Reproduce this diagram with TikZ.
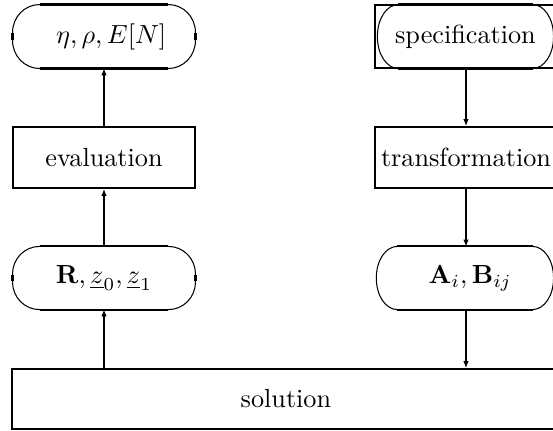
\documentclass[tikz,border=0pt]{standalone}
\usetikzlibrary{arrows.meta}
\tikzset{
  rectbox/.style={draw, line width=0.8pt, minimum width=69.4pt, inner sep=0pt},
  ovalnode/.style={inner sep=0pt, minimum width=#1},
  ovalnode/.default=69.4pt,
  flat/.style={line width=0.8pt},
  thinline/.style={line width=0.4pt},
  conn/.style={line width=0.4pt, -{Latex[length=2.6pt,width=2.1pt]}}
}
% \ovaloutline{node}{rx}{ry}
\newcommand{\ovaloutline}[3]{%
  \draw[thinline] ([xshift=#2]#1.north west)
    arc[start angle=90, end angle=180, x radius=#2, y radius=#3]
    -- ([yshift=#3]#1.south west)
    arc[start angle=180, end angle=270, x radius=#2, y radius=#3]
    -- ([xshift=-#2]#1.south east)
    arc[start angle=270, end angle=360, x radius=#2, y radius=#3]
    -- ([yshift=-#3]#1.north east)
    arc[start angle=0, end angle=90, x radius=#2, y radius=#3] -- cycle;
  \draw[flat] ([xshift=#2]#1.north west) -- ([xshift=-#2]#1.north east);
  \draw[flat] ([xshift=#2]#1.south west) -- ([xshift=-#2]#1.south east);
}
\begin{document}
\begin{tikzpicture}[x=1pt,y=-1pt]
  \useasboundingbox (0,0) rectangle (211,164.07);
  \clip (0,0) rectangle (211,164.07);

  % left column
  \node[ovalnode, minimum height=24pt] (eta) at (39.68,13.93) {\hspace*{5.5pt}$\eta, \rho, E[N]$};
  \node[rectbox, minimum height=23.3pt] (eval) at (39.68,60.09) {evaluation};
  \node[ovalnode, minimum height=23.7pt] (R) at (39.68,106.07) {$\mathbf{R}, \underline{z}_0, \underline{z}_1$};

  % right column
  \node[rectbox, minimum height=24pt] (specframe) at (177.8,13.93) {};
  \node[ovalnode=66.8pt, minimum height=24pt] (spec) at (177.6,13.93) {specification};
  \node[rectbox, minimum height=23.3pt] (trans) at (177.8,60.09) {transformation};
  \node[ovalnode=67.2pt, minimum height=23.7pt] (A) at (177.4,106.07) {\hspace*{4pt}$\mathbf{A}_i, \mathbf{B}_{ij}$};

  % bottom
  \node[rectbox, minimum width=209.1pt, minimum height=22.9pt] (sol) at (109.1,152.24) {solution};

  % oval outlines
  \ovaloutline{eta}{10.3pt}{10.7pt}
  \ovaloutline{R}{10.3pt}{10.5pt}
  \ovaloutline{spec}{8pt}{12pt}
  \ovaloutline{A}{8pt}{11.85pt}
  % short straight sides of the left ovals
  \draw[flat] ([yshift=1.3pt]eta.west) -- ([yshift=-1.3pt]eta.west);
  \draw[flat] ([yshift=1.3pt]eta.east) -- ([yshift=-1.3pt]eta.east);
  \draw[flat] ([yshift=1.3pt]R.west) -- ([yshift=-1.3pt]R.west);
  \draw[flat] ([yshift=1.3pt]R.east) -- ([yshift=-1.3pt]R.east);

  % connectors
  \draw[conn] (sol.north -| R) -- (R.south);
  \draw[conn] (R.north) -- (eval.south);
  \draw[conn] (eval.north) -- (eta.south);
  \draw[conn] (specframe.south) -- (trans.north);
  \draw[conn] (trans.south) -- (trans.south |- A.north);
  \draw[conn] (trans.south |- A.south) -- (trans.south |- sol.north);
\end{tikzpicture}
\end{document}
